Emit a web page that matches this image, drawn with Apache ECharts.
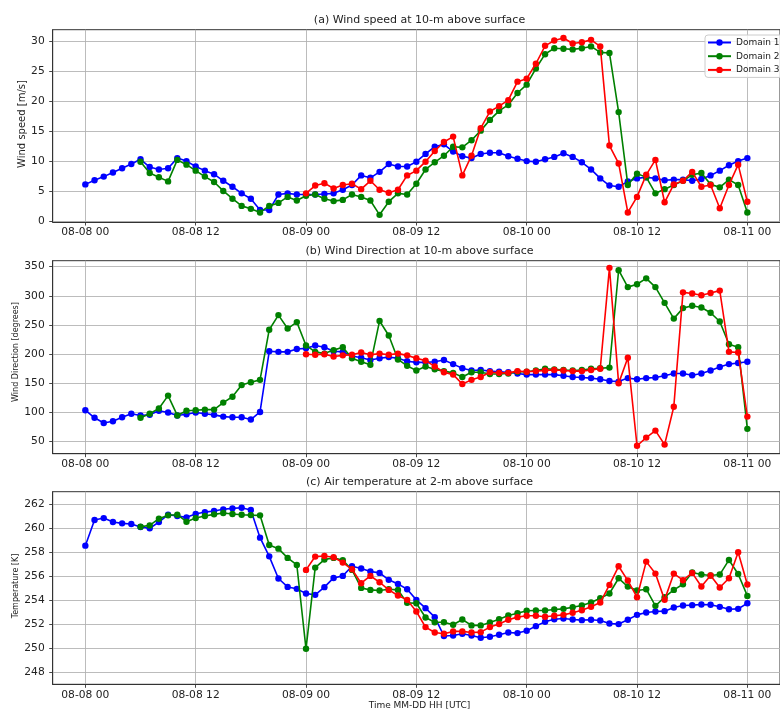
<!DOCTYPE html>
<html><head><meta charset="utf-8">
<script src="https://cdn.jsdelivr.net/npm/echarts@6/dist/echarts.min.js"></script>
<style>html,body{margin:0;padding:0;background:#fff}#c{width:780px;height:713px}</style>
</head><body><div id="c"></div>
<script>
// ---- data (hourly, hours since 08-08 00 UTC) ----
const tickHours = [0, 12, 24, 36, 48, 60, 72];
const tickLabels = ['08-08 00','08-08 12','08-09 00','08-09 12','08-10 00','08-10 12','08-11 00'];
const seriesNames = ['Domain 1', 'Domain 2', 'Domain 3'];
const d1Start = 0, d2Start = 6, d3Start = 24;

const d1Speed = [6.1,6.8,7.4,8.1,8.8,9.5,10.3,9.0,8.6,8.8,
  10.5,10.0,9.1,8.4,7.8,6.7,5.7,4.6,3.7,1.8,
  1.8,4.4,4.6,4.4,4.4,4.4,4.5,4.6,5.2,6.0,
  7.6,7.2,8.2,9.5,9.1,9.1,9.9,11.2,12.4,12.8,
  11.6,10.8,10.5,11.2,11.4,11.4,10.8,10.4,10.0,9.9,
  10.3,10.7,11.3,10.7,9.8,8.6,7.1,5.9,5.7,6.6,
  7.1,7.3,7.1,6.8,6.9,6.9,6.7,7.0,7.6,8.4,
  9.3,10.0,10.5];
const d2Speed = [9.9,8.0,7.3,6.6,10.2,9.4,8.4,7.4,6.5,5.0,
  3.7,2.5,2.0,1.4,2.5,3.0,4.0,3.4,4.2,4.4,
  3.7,3.3,3.5,4.4,4.0,3.4,1.0,3.2,4.6,4.4,
  6.2,8.6,9.8,10.9,12.4,12.3,13.5,15.1,16.9,18.4,
  19.4,21.4,22.8,25.5,27.9,28.9,28.8,28.7,28.9,29.2,
  28.2,28.1,18.2,6.0,7.9,7.3,4.6,5.3,6.0,6.7,
  7.7,8.0,6.1,5.6,6.9,6.0,1.4];
const d3Speed = [4.6,5.9,6.3,5.4,6.0,6.2,5.3,6.7,5.2,4.7,
  5.2,7.6,8.4,9.9,11.7,13.2,14.1,7.6,10.9,15.5,
  18.3,19.2,20.2,23.3,23.8,26.3,29.3,30.2,30.6,29.7,
  29.9,30.3,29.2,12.6,9.6,1.4,4.0,7.7,10.2,3.1,
  6.1,6.7,8.2,5.7,6.0,2.1,6.0,9.4,3.2];

const d1Dir = [104,91,82,85,92,98,95,96,103,100,
  95,97,100,98,96,93,92,92,88,101,
  205,204,204,209,210,215,212,205,204,197,
  194,190,193,195,193,188,186,186,187,190,
  183,176,172,173,171,170,169,167,165,165,
  165,165,163,161,160,159,157,154,153,159,
  157,159,160,163,167,167,164,167,172,178,
  183,185,187];
const d2Dir = [91,98,107,129,95,103,104,105,105,117,
  127,147,152,156,242,267,244,255,215,204,
  201,207,212,193,187,182,257,232,191,180,
  172,179,174,171,168,161,169,169,166,166,
  167,170,170,172,175,174,173,172,173,175,
  176,177,344,315,320,330,315,288,261,279,
  283,280,271,256,217,212,72];
const d3Dir = [200,199,200,196,198,199,203,199,201,199,
  201,198,193,189,179,169,165,149,156,161,
  169,168,168,171,170,171,172,173,172,171,
  171,173,175,348,150,194,43,57,69,45,
  110,306,304,301,305,309,204,203,93];

const d1Temp = [258.53,260.67,260.83,260.5,260.39,260.34,260.09,259.98,260.5,261.11,
  261.0,260.89,261.17,261.33,261.42,261.56,261.64,261.69,261.5,259.2,
  257.64,255.79,255.09,254.93,254.54,254.43,255.07,255.84,256.01,256.81,
  256.62,256.37,256.26,255.68,255.34,254.9,254.01,253.32,252.57,251.0,
  251.04,251.18,251.04,250.85,250.93,251.1,251.29,251.24,251.43,251.82,
  252.18,252.4,252.46,252.37,252.32,252.35,252.29,252.04,251.99,252.35,
  252.76,252.96,253.04,253.07,253.37,253.54,253.57,253.62,253.6,253.43,
  253.23,253.26,253.73];
const d2Temp = [260.11,260.22,260.78,261.06,261.11,260.53,260.83,261.0,261.14,261.25,
  261.17,261.11,261.08,261.06,258.59,258.28,257.51,256.92,249.93,256.7,
  257.37,257.51,257.31,256.51,255.01,254.84,254.79,254.9,254.84,253.76,
  253.73,252.54,252.15,252.15,251.93,252.37,251.88,251.88,252.12,252.4,
  252.71,252.9,253.1,253.12,253.12,253.21,253.26,253.4,253.54,253.79,
  254.15,254.54,255.81,255.12,254.79,254.9,253.51,254.23,254.84,255.31,
  256.29,256.12,256.04,256.12,257.34,256.17,254.34];
const d3Temp = [256.51,257.62,257.67,257.56,257.12,256.56,255.4,256.01,255.48,254.84,
  254.37,254.01,253.04,251.74,251.29,251.18,251.38,251.38,251.29,251.32,
  251.74,251.99,252.35,252.57,252.68,252.68,252.6,252.68,252.76,252.93,
  253.15,253.43,253.79,255.26,256.81,255.62,254.23,257.2,256.2,254.01,
  256.2,255.65,256.26,255.12,256.04,255.04,255.81,257.98,255.29];

const speedTicks = [0, 5, 10, 15, 20, 25, 30];
const dirTicks = [50, 100, 150, 200, 250, 300, 350];
const tempTicks = [248, 250, 252, 254, 256, 258, 260, 262];

// ---- chart ----
const FONT = '"DejaVu Sans", "Liberation Sans", sans-serif';
const colors = ['#0000ff', '#008000', '#ff0000'];
const chart = echarts.init(document.getElementById('c'), null, {renderer: 'canvas'});

const panels = [
  {top: 29.7, height: 192.3, min: -0.2, max: 32.0, ticks: speedTicks,
   data: [[d1Start, d1Speed], [d2Start, d2Speed], [d3Start, d3Speed]]},
  {top: 260.7, height: 193.0, min: 29.4, max: 360.3, ticks: dirTicks,
   data: [[d1Start, d1Dir], [d2Start, d2Dir], [d3Start, d3Dir]]},
  {top: 491.7, height: 192.6, min: 246.97, max: 263.03, ticks: tempTicks,
   data: [[d1Start, d1Temp], [d2Start, d2Temp], [d3Start, d3Temp]]}
];

const toPairs = (start, arr) => arr.map((v, i) => [start + i, v]);
const GL = 52.7, GW = 733.9;
const spine = '#333';

const grids = [], xAxes = [], yAxes = [], series = [];
panels.forEach((p, k) => {
  grids.push({left: GL, top: p.top, width: GW, height: p.height, show: true,
    borderColor: spine, borderWidth: 1, backgroundColor: 'transparent', containLabel: false});
  xAxes.push({type: 'value', gridIndex: k, min: -3.55, max: 75.55,
    axisLine: {show: true, onZero: false, lineStyle: {color: spine, width: 1}},
    axisTick: {show: true, length: 3.5, inside: false, customValues: tickHours, lineStyle: {color: spine, width: 0.9}},
    axisLabel: {customValues: tickHours, formatter: v => tickLabels[tickHours.indexOf(v)] || '',
      fontSize: 10.7, fontFamily: FONT, color: '#222', margin: 5},
    splitLine: {show: true, lineStyle: {color: '#b0b0b0', width: 0.85}}
  });
  yAxes.push({type: 'value', gridIndex: k, min: p.min, max: p.max,
    axisLine: {show: true, onZero: false, lineStyle: {color: spine, width: 1}},
    axisTick: {show: true, length: 3.5, inside: false, customValues: p.ticks, lineStyle: {color: spine, width: 0.9}},
    axisLabel: {customValues: p.ticks, fontSize: 10.7, fontFamily: FONT, color: '#222', margin: 8},
    splitLine: {show: true, lineStyle: {color: '#b0b0b0', width: 0.85}}
  });
  p.data.forEach((d, j) => {
    series.push({type: 'line', name: seriesNames[j], xAxisIndex: k, yAxisIndex: k,
      data: toPairs(d[0], d[1]), symbol: 'circle', symbolSize: 6.4, showSymbol: true,
      lineStyle: {color: colors[j], width: 1.6}, itemStyle: {color: colors[j]},
      emphasis: {disabled: true}, z: 2 + j});
  });
});

const txt = (x, y, text, size, rot) => ({type: 'text', x: x, y: y, rotation: rot || 0,
  style: {text: text, fontSize: size, fontFamily: FONT, fill: '#222', align: 'center', verticalAlign: 'middle'}});

chart.setOption({
  animation: false,
  backgroundColor: '#ffffff',
  grid: grids, xAxis: xAxes, yAxis: yAxes, series: series,
  legend: {data: seriesNames, orient: 'vertical', left: 705, top: 35,
    padding: [2, 8, 2, 2], itemWidth: 23, itemHeight: 8, itemGap: 2.7,
    textStyle: {fontSize: 9, fontFamily: FONT, color: '#222', lineHeight: 11},
    backgroundColor: 'rgba(255,255,255,0.8)', borderColor: '#cccccc', borderWidth: 1, borderRadius: 3,
    selectedMode: false},
  graphic: [
    txt(419.5, 20.5, '(a) Wind speed at 10-m above surface', 11),
    txt(419.5, 251.5, '(b) Wind Direction at 10-m above surface', 11),
    txt(419.5, 482.5, '(c) Air temperature at 2-m above surface', 11),
    txt(22.7, 124, 'Wind speed [m/s]', 10, Math.PI / 2),
    txt(15.5, 352, 'Wind Direction [degrees]', 8, Math.PI / 2),
    txt(15.5, 586, 'Temperature [K]', 8, Math.PI / 2),
    txt(419.5, 706, 'Time MM-DD HH [UTC]', 9)
  ]
});
</script></body></html>
